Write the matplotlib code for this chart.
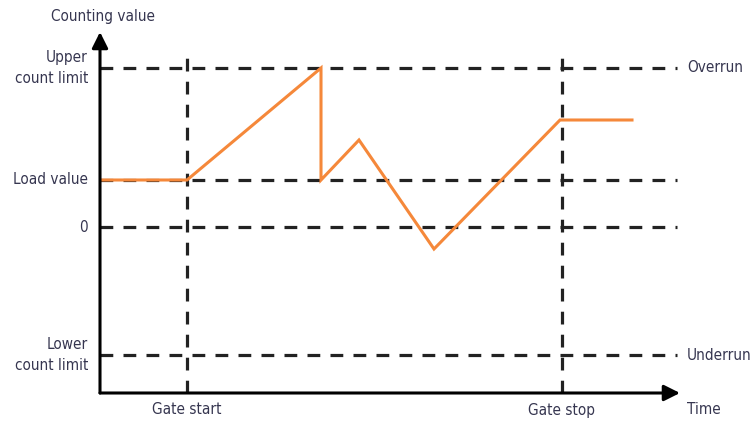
import matplotlib.pyplot as plt

# counting value vs time (arbitrary units)
t_count = [0, 87, 221, 221, 259, 334, 460, 532]
count = [47, 47, 159, 47, 87, -22, 107, 107]

levels = [159, 47, 0, -128]          # upper limit, load value, 0, lower limit
level_labels = ["Upper\ncount limit", "Load value", "0", "Lower\ncount limit"]
gates = [87, 462]
gate_labels = ["Gate start", "Gate stop"]
right_labels = {159: "Overrun", -128: "Underrun"}

plt.rcParams['font.family'] = ['DejaVu Sans']
plt.rcParams['font.stretch'] = 'condensed'
txt = '#363650'

fig = plt.figure(figsize=(7.55, 4.22), dpi=100)
ax = fig.add_axes([100/755, 1 - 393/422, 580/755, (393 - 32)/422])
ax.set_xlim(0, 580)
ax.set_ylim(-166, 195)
ax.axis('off')

dash = dict(color='#222222', lw=2.3, dashes=(4, 3.2))
for lv in levels:
    ax.plot([0, 577], [lv, lv], **dash)
for g in gates:
    ax.plot([g, g], [-166, 177], **dash)

ax.plot(t_count, count, color='#f5883a', lw=2.2, solid_joinstyle='miter')

# axes with arrows
arr = dict(arrowstyle='-|>', color='black', lw=2.2, mutation_scale=24, shrinkA=0, shrinkB=0)
ax.annotate('', xy=(580, -166), xytext=(0, -166), arrowprops=arr)
ax.annotate('', xy=(0, 195), xytext=(0, -166), arrowprops=arr)

fs = 11
for lv, lab in zip(levels, level_labels):
    ax.text(-12, lv, lab, ha='right', va='center', fontsize=fs, color=txt, linespacing=1.45)
for g, lab in zip(gates, gate_labels):
    ax.text(g, -183, lab, ha='center', va='center', fontsize=fs, color=txt)
for lv, lab in right_labels.items():
    ax.text(587, lv, lab, ha='left', va='center', fontsize=fs, color=txt)
ax.text(587, -183, "Time", ha='left', va='center', fontsize=fs, color=txt)
ax.text(3, 210, "Counting value", ha='center', va='center', fontsize=fs, color=txt)

fig.savefig('out.png', dpi=100)
